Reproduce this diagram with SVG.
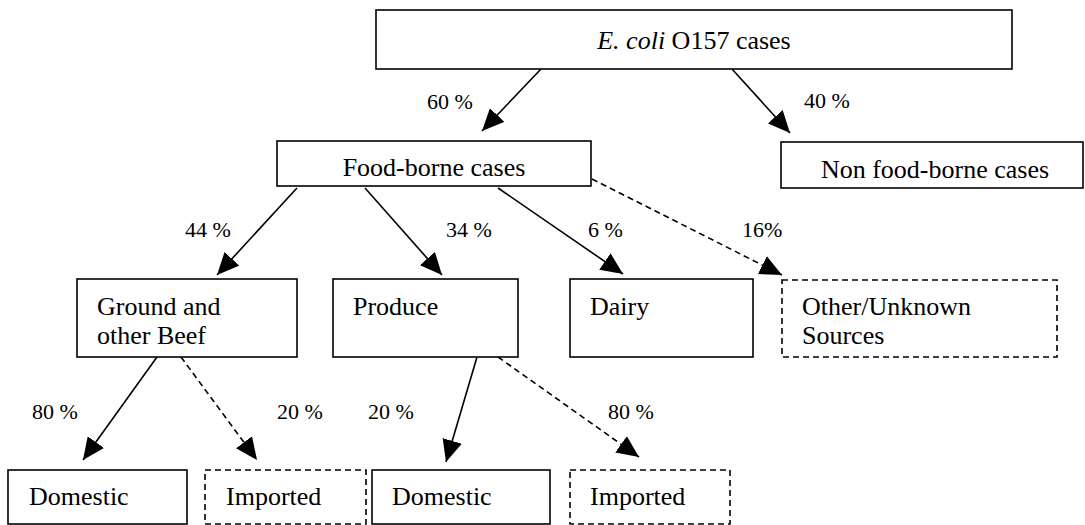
<svg xmlns="http://www.w3.org/2000/svg" width="1085" height="525" viewBox="0 0 1085 525">
<defs>
<marker id="ah" viewBox="0 0 22 20" refX="22" refY="10" markerWidth="22" markerHeight="20" markerUnits="userSpaceOnUse" orient="auto">
<path d="M0,0 L22,10 L0,20 z" fill="#000"/>
</marker>
<style>
.box{fill:#fff;stroke:#000;stroke-width:1.6}
.dbox{fill:#fff;stroke:#000;stroke-width:1.6;stroke-dasharray:6 4}
.t{font-family:'Liberation Serif','Times New Roman',serif;font-size:26px;fill:#000}
.lbl{font-family:'Liberation Serif','Times New Roman',serif;font-size:22px;fill:#000}
.c{fill:none;stroke:#000;stroke-width:1.6;marker-end:url(#ah)}
.d{stroke-dasharray:6 4}
</style>
</defs>
<rect width="1085" height="525" fill="#fff"/>
<g id="connectors">
<line class="c" x1="541" y1="69" x2="482" y2="131"/>
<line class="c" x1="732" y1="69" x2="790" y2="133"/>
<line class="c" x1="297" y1="188" x2="217" y2="275"/>
<line class="c" x1="365" y1="188" x2="442" y2="275"/>
<line class="c" x1="498" y1="188" x2="623" y2="274"/>
<line class="c d" x1="592" y1="179" x2="782" y2="275"/>
<line class="c" x1="157" y1="357" x2="83" y2="460"/>
<line class="c d" x1="181" y1="357" x2="257" y2="460"/>
<line class="c" x1="477" y1="357" x2="446" y2="462"/>
<line class="c d" x1="498" y1="357" x2="639" y2="457"/>
</g>
<g id="labels">
<text class="lbl" x="427" y="109">60 %</text>
<text class="lbl" x="804" y="108">40 %</text>
<text class="lbl" x="185" y="237">44 %</text>
<text class="lbl" x="446" y="237">34 %</text>
<text class="lbl" x="588" y="237">6 %</text>
<text class="lbl" x="742" y="237">16%</text>
<text class="lbl" x="32" y="419">80 %</text>
<text class="lbl" x="277" y="419">20 %</text>
<text class="lbl" x="368" y="419">20 %</text>
<text class="lbl" x="608" y="419">80 %</text>
</g>
<g id="ecoli">
<rect class="box" x="376" y="10" width="636" height="59"/>
<text class="t" x="694" y="49" text-anchor="middle"><tspan font-style="italic">E. coli</tspan> O157 cases</text>
</g>
<g id="foodborne">
<rect class="box" x="277" y="141" width="314" height="45"/>
<text class="t" x="434" y="176" text-anchor="middle">Food-borne cases</text>
</g>
<g id="nonfoodborne">
<rect class="box" x="781" y="142" width="302" height="46"/>
<text class="t" x="935" y="178" text-anchor="middle">Non food-borne cases</text>
</g>
<g id="beef">
<rect class="box" x="77" y="279" width="220" height="78"/>
<text class="t" x="97" y="315">Ground and</text>
<text class="t" x="97" y="344">other Beef</text>
</g>
<g id="produce">
<rect class="box" x="333" y="279" width="185" height="78"/>
<text class="t" x="353" y="315">Produce</text>
</g>
<g id="dairy">
<rect class="box" x="570" y="279" width="183" height="78"/>
<text class="t" x="590" y="315">Dairy</text>
</g>
<g id="other">
<rect class="dbox" x="782" y="280" width="275" height="77"/>
<text class="t" x="802" y="315">Other/Unknown</text>
<text class="t" x="802" y="344">Sources</text>
</g>
<g id="beef-domestic">
<rect class="box" x="8" y="470" width="179" height="54"/>
<text class="t" x="29" y="505">Domestic</text>
</g>
<g id="beef-imported">
<rect class="dbox" x="205" y="470" width="161" height="54"/>
<text class="t" x="226" y="505">Imported</text>
</g>
<g id="produce-domestic">
<rect class="box" x="372" y="470" width="178" height="54"/>
<text class="t" x="392" y="505">Domestic</text>
</g>
<g id="produce-imported">
<rect class="dbox" x="570" y="470" width="160" height="54"/>
<text class="t" x="590" y="505">Imported</text>
</g>
</svg>
